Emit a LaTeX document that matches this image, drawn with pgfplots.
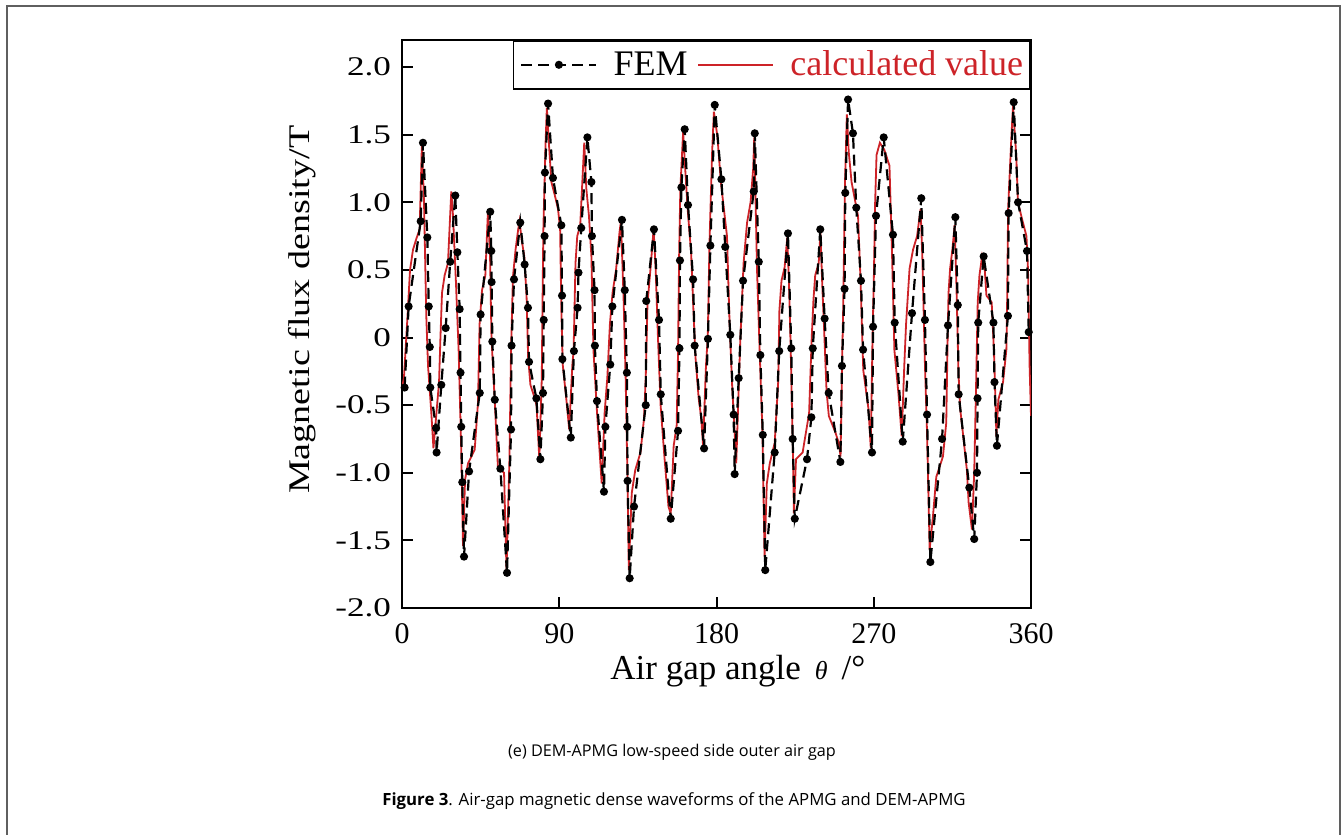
\documentclass[border=0pt]{standalone}
\usepackage{pgfplots}
\pgfplotsset{compat=1.18}
\usepackage{fontspec}
\setmainfont{Liberation Serif}
\newfontfamily\capfont{Open Sans}
\definecolor{calcred}{RGB}{205,35,40}
\definecolor{framegray}{RGB}{95,95,95}
\newcommand{\ylab}[1]{\scalebox{1.3}[1]{#1}}

% FEM samples (air gap angle in degrees, flux density in T)
\pgfplotstableread{
x y
1.5 -0.37
3.8 0.23
10.7 0.86
12.0 1.44
14.5 0.74
15.3 0.23
15.9 -0.07
16.2 -0.37
19.5 -0.67
19.8 -0.85
22.5 -0.35
25.0 0.07
27.6 0.56
30.5 1.05
31.7 0.63
33.0 0.21
33.5 -0.26
33.9 -0.66
34.5 -1.07
35.5 -1.62
38.4 -0.99
44.5 -0.41
45.0 0.17
50.5 0.93
51.1 0.64
51.3 0.41
51.7 -0.03
53.1 -0.46
56.3 -0.97
60.1 -1.74
62.4 -0.68
62.7 -0.06
64.1 0.43
67.7 0.85
70.2 0.54
72.1 0.22
72.7 -0.18
76.9 -0.45
79.2 -0.90
80.7 -0.41
81.1 0.13
81.6 0.75
81.8 1.22
83.6 1.73
86.4 1.18
91.2 0.83
91.6 0.31
91.8 -0.16
96.6 -0.74
98.4 -0.10
100.5 0.22
101.0 0.48
102.6 0.81
106.1 1.48
108.4 1.15
108.7 0.75
110.2 0.35
110.4 -0.06
111.6 -0.47
115.6 -1.14
116.4 -0.66
119.2 -0.20
120.4 0.23
125.9 0.87
127.5 0.35
128.7 -0.26
128.9 -0.66
129.1 -1.06
130.3 -1.78
132.8 -1.25
139.5 -0.50
139.8 0.27
144.2 0.80
147.1 0.13
148.1 -0.42
153.8 -1.34
158.0 -0.69
158.8 -0.08
159.1 0.57
159.9 1.11
161.8 1.54
163.7 0.98
166.6 0.43
167.5 -0.06
172.9 -0.82
175.1 -0.01
176.5 0.68
179.0 1.72
182.8 1.17
185.0 0.67
187.9 0.02
189.8 -0.57
190.4 -1.01
192.7 -0.30
195.2 0.42
201.3 1.08
201.9 1.51
204.2 0.56
205.1 -0.13
206.5 -0.72
207.9 -1.72
213.3 -0.85
215.9 -0.10
220.9 0.77
222.8 -0.08
223.6 -0.75
224.8 -1.34
231.8 -0.90
234.3 -0.59
235.1 -0.08
239.4 0.80
241.9 0.14
244.2 -0.41
250.9 -0.92
251.8 -0.21
253.3 0.36
253.7 1.07
255.3 1.76
258.1 1.51
260.0 0.96
262.7 0.42
263.9 -0.09
269.0 -0.85
269.6 0.08
271.3 0.90
275.7 1.48
281.0 0.76
282.0 0.11
286.6 -0.77
291.9 0.18
297.2 1.03
299.3 0.13
300.5 -0.57
302.4 -1.66
309.1 -0.75
312.5 0.09
316.7 0.89
318.1 0.24
318.6 -0.42
324.7 -1.11
327.5 -1.49
329.1 -1.00
329.4 -0.45
329.8 0.11
332.9 0.60
338.5 0.11
339.1 -0.33
340.5 -0.80
346.8 0.16
347.2 0.92
350.1 1.74
352.6 1.00
357.7 0.64
358.7 0.04
}\femdata

% calculated curve
\pgfplotstableread{
x y
0.0 -0.37
1.1 -0.30
2.9 0.10
4.6 0.50
6.3 0.65
8.2 0.73
10.1 0.80
11.4 1.44
12.6 1.00
13.9 0.16
14.9 -0.21
16.8 -0.56
18.0 -0.82
21.2 -0.33
22.0 0.00
22.9 0.33
24.4 0.46
26.3 0.55
28.2 1.08
29.2 0.90
30.9 0.40
32.4 -0.09
33.9 -0.83
34.9 -1.54
36.1 -1.05
37.8 -0.93
41.6 -0.83
43.5 -0.48
44.4 0.10
45.8 0.35
47.7 0.46
49.2 0.94
50.4 0.60
51.2 0.00
53.2 -0.50
54.9 -0.96
58.4 -1.00
59.8 -1.72
61.5 -0.90
62.4 -0.10
63.5 0.45
65.0 0.65
66.5 0.80
67.3 0.86
68.5 0.72
70.0 0.60
71.3 0.30
72.2 -0.15
73.5 -0.35
75.5 -0.43
77.0 -0.50
78.6 -0.90
80.0 -0.30
80.3 0.10
80.9 0.80
82.2 1.45
82.9 1.70
84.0 1.45
85.5 1.15
87.5 1.05
89.3 0.95
90.5 0.80
91.2 0.20
92.0 -0.20
94.0 -0.45
95.7 -0.68
97.5 -0.20
98.2 -0.10
99.3 0.55
100.3 0.75
102.0 0.83
104.3 1.44
105.5 1.10
107.0 0.90
108.4 0.60
109.6 -0.10
111.6 -0.55
114.3 -1.08
116.0 -0.55
117.5 -0.30
119.0 0.10
120.5 0.33
122.5 0.50
124.5 0.78
125.3 0.86
126.8 0.30
128.0 -0.30
129.0 -1.00
129.8 -1.72
131.5 -1.15
133.5 -0.98
136.5 -0.85
138.5 -0.60
139.5 -0.30
140.5 0.25
142.5 0.55
144.0 0.80
145.2 0.50
146.5 0.00
148.0 -0.50
150.0 -0.85
152.5 -1.25
153.8 -1.30
155.5 -0.80
157.2 -0.65
158.0 -0.10
158.6 0.60
159.3 1.10
160.9 1.52
162.3 1.20
163.5 0.95
165.5 0.62
166.8 0.20
168.0 -0.15
169.8 -0.45
171.3 -0.60
172.3 -0.80
174.0 -0.20
175.0 0.00
176.0 0.70
177.5 1.37
178.5 1.67
180.5 1.49
182.5 1.15
184.5 0.92
186.0 0.75
187.5 0.10
189.0 -0.37
190.0 -0.60
191.3 -0.93
193.5 -0.06
195.0 0.40
195.5 0.55
197.5 0.85
199.5 1.00
201.0 1.25
201.6 1.48
203.2 0.50
204.7 -0.10
206.3 -0.70
207.5 -1.62
208.8 -1.08
210.5 -0.93
213.3 -0.78
215.3 -0.33
216.0 0.20
217.2 0.42
219.0 0.52
220.5 0.74
221.5 0.40
222.5 -0.10
223.8 -0.90
224.3 -1.30
225.5 -0.90
229.3 -0.85
233.0 -0.56
234.5 0.00
235.5 0.28
236.5 0.46
238.5 0.55
239.5 0.78
240.5 0.40
241.5 0.09
243.0 -0.40
244.3 -0.58
248.0 -0.70
250.0 -0.78
251.0 -0.88
252.0 -0.10
252.5 0.20
253.5 1.12
254.6 1.65
255.7 1.37
257.3 1.15
259.5 1.00
261.0 0.90
262.5 0.40
264.0 -0.24
267.0 -0.53
268.3 -0.82
269.3 0.00
270.0 0.40
270.8 1.00
271.6 1.35
273.5 1.44
276.0 1.39
279.0 1.27
280.5 0.60
281.8 -0.09
284.1 -0.41
286.0 -0.73
287.5 -0.20
288.5 0.10
290.5 0.51
292.5 0.65
294.8 0.75
296.8 0.95
297.8 0.60
299.3 -0.20
300.5 -0.70
302.0 -1.57
303.9 -1.32
305.8 -1.03
309.6 -0.88
311.5 -0.63
312.3 0.00
312.8 0.33
313.7 0.51
315.0 0.65
316.3 0.83
317.3 0.40
318.5 -0.26
319.5 -0.53
320.8 -0.68
323.3 -0.98
324.3 -1.22
326.2 -1.42
327.5 -1.00
328.5 -0.40
329.5 0.26
330.5 0.46
332.0 0.60
333.5 0.51
334.5 0.31
337.5 0.26
338.8 -0.10
339.8 -0.53
340.2 -0.73
341.3 -0.46
344.0 -0.33
345.9 -0.09
346.3 0.20
346.9 0.95
348.8 1.49
349.7 1.71
351.6 1.34
352.5 1.00
355.4 0.85
357.4 0.75
358.3 0.50
359.2 -0.21
360.0 -0.58
}\calcdata

\begin{document}
\begin{tikzpicture}
\useasboundingbox (0,0) rectangle (672pt,417.5pt);
\draw[framegray, line width=1pt] (3.5pt,0) -- (3.5pt,414.5pt) -- (670pt,414.5pt) -- (670pt,0);

\begin{axis}[
    at={(201pt,113.5pt)}, anchor=south west,
    scale only axis, width=314.5pt, height=284pt,
    xmin=0, xmax=360, ymin=-2, ymax=2.2,
    xtick={0,90,180,270,360}, xticklabels={0,90,180,270,360},
    ytick={-2,-1.5,-1,-0.5,0,0.5,1,1.5,2},
    yticklabels={\ylab{-2.0},\ylab{-1.5},\ylab{-1.0},\ylab{-0.5},\ylab{0},\ylab{0.5},\ylab{1.0},\ylab{1.5},\ylab{2.0}},
    xtick pos=lower, ytick pos=both, tick align=inside,
    major tick length=5.5pt,
    axis line style={line width=1pt},
    tick style={line width=1pt, black},
    /pgf/number format/assume math mode=true,
    xticklabel style={font=\fontsize{15}{15}\selectfont, yshift=-4pt},
    yticklabel style={font=\fontsize{13.5}{13.5}\selectfont, xshift=-2pt},
    xlabel={Air gap angle\hspace{7pt}{\fontsize{13}{13}\selectfont\textit{θ}}\hspace{7pt}/°},
    ylabel={\scalebox{1.27}[1]{Magnetic flux density/T}},
    xlabel style={font=\fontsize{17.5}{17.5}\selectfont, at={(rel axis cs:0.534,0)}, anchor=base, yshift=-36pt},
    ylabel style={font=\fontsize{15}{15}\selectfont, at={(rel axis cs:0,0.525)}, anchor=center, yshift=50pt},
    legend style={at={(1,1)}, anchor=north east, draw=black, line width=0.8pt,
        font=\fontsize{18}{18}\selectfont, inner xsep=3.5pt, inner ysep=5pt,
        nodes={inner sep=0pt},
        /tikz/every odd column/.append style={column sep=8pt},
        /tikz/every even column/.append style={column sep=5pt}},
    legend columns=2,
    legend image code/.code={\draw[mark repeat=2,mark phase=2,#1] plot coordinates {(0pt,0pt) (18.75pt,0pt) (37.5pt,0pt)};},
]
\addlegendimage{black, line width=1.1pt, dash pattern=on 5.5pt off 3pt, mark=*, mark size=1.45pt, mark options={solid}}
\addlegendentry{FEM}
\addlegendimage{calcred, line width=0.9pt}
\addlegendentry{\textcolor{calcred}{calculated value}}

\addplot[calcred, line width=0.9pt, forget plot] table {\calcdata};
\addplot[black, line width=1.1pt, dash pattern=on 5.5pt off 3pt, mark=*, mark size=1.45pt, mark options={solid}, forget plot] table {\femdata};
\end{axis}

\node[font=\capfont\fontsize{8.1}{10}\selectfont] at (336pt,41.5pt) {(e) DEM-APMG low-speed side outer air gap};
\node[font=\capfont\fontsize{8.4}{10}\selectfont] at (337pt,17pt) {\textbf{Figure 3}. Air-gap magnetic dense waveforms of the APMG and DEM-APMG};
\end{tikzpicture}
\end{document}
